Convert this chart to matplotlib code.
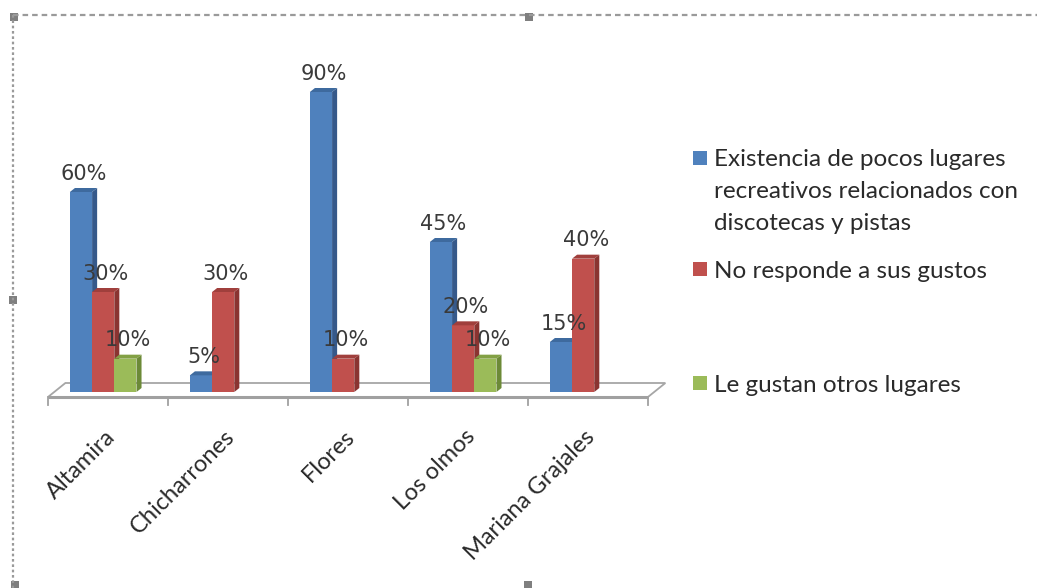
import matplotlib
matplotlib.use("Agg")
import matplotlib.pyplot as plt
from matplotlib.patches import Polygon, Rectangle
from matplotlib.lines import Line2D

categories = ["Altamira", "Chicharrones", "Flores", "Los olmos", "Mariana Grajales"]
pocos_lugares = [60, 5, 90, 45, 15]
no_responde = [30, 30, 10, 20, 40]
otros_lugares = [10, 0, 0, 10, 0]

series_names = [
    "Existencia de pocos lugares\nrecreativos relacionados con\ndiscotecas y pistas",
    "No responde a sus gustos",
    "Le gustan otros lugares",
]
series_values = [pocos_lugares, no_responde, otros_lugares]
# front, side, top shades for each series
shades = [
    ("#4F81BD", "#36598A", "#3E6A9E"),
    ("#C0504D", "#8A3431", "#A03F3C"),
    ("#9BBB59", "#6C8A37", "#82A044"),
]

W, H = 1037, 588
fig = plt.figure(figsize=(W / 100, H / 100), dpi=100)

# axes placed so one category spans 120 px and 1% spans ~3.33 px
ax = fig.add_axes([30 / W, (H - 420) / H, 650 / W, 380 / H])
ax.set_xlim(-0.65, 4.767)
ax.set_ylim(-8.4, 105.6)
ax.axis("off")

dx, dy = 0.042, 1.2       # depth of bar side/top
fdx, f_front, f_back = 0.145, -1.5, 2.7   # floor geometry
n = len(categories)

floor = Polygon([(-0.5, f_front), (n - 0.5, f_front), (n - 0.5 + fdx, f_back),
                 (-0.5 + fdx, f_back)], closed=True, facecolor="white",
                edgecolor="#A6A6A6", lw=1.3, zorder=1)
ax.add_patch(floor)
ax.plot([-0.5, n - 0.5], [f_front, f_front], color="#A0A0A0", lw=2.2, zorder=1.5,
        solid_capstyle="butt")
for i in range(n + 1):
    ax.plot([i - 0.5, i - 0.5], [f_front, -3.9], color="#A0A0A0", lw=1.3, zorder=1.5)


def bar3d(x, w, h, colors, z):
    front, side, top = colors
    ax.bar(x, h, w, color=front, linewidth=0, zorder=z)
    r, l = x + w / 2, x - w / 2
    ax.add_patch(Polygon([(r, 0), (r + dx, dy), (r + dx, h + dy), (r, h)],
                         closed=True, facecolor=side, lw=0, zorder=z))
    ax.add_patch(Polygon([(l, h), (l + dx, h + dy), (r + dx, h + dy), (r, h)],
                         closed=True, facecolor=top, lw=0, zorder=z))


w = 0.185
for k, (vals, colors) in enumerate(zip(series_values, shades)):
    for i, v in enumerate(vals):
        if v == 0:
            continue
        x = i + (k - 1) * w - 0.04
        bar3d(x, w, v, colors, 2 + k)
        ax.annotate(f"{v}%", (x + dx / 2, v + dy), xytext=(0, 3),
                    textcoords="offset points", ha="center", va="bottom",
                    fontsize=15, color="#3A3A3A", family="DejaVu Sans", zorder=10)

for i, name in enumerate(categories):
    ax.text(i - 0.03, -10.2, name, rotation=45, rotation_mode="anchor",
            ha="right", va="top", fontsize=17, family="Lato", color="#2A2A2A",
            clip_on=False)

# legend, one text per line so spacing follows the 32 px rhythm
leg_y = [158, 269, 383]
for (front, _, _), name, y in zip(shades, series_names, leg_y):
    fig.patches.append(Rectangle((693 / W, (H - y - 7) / H), 14 / W, 14 / H,
                                 transform=fig.transFigure, facecolor=front, lw=0))
    for j, line in enumerate(name.split("\n")):
        fig.text(714 / W, (H - y - 32 * j) / H, line, ha="left", va="center_baseline",
                 fontsize=17.5, family="Lato", color="#2A2A2A")

# dashed frame with handles
frame = dict(color="#9A9A9A", lw=1.6, transform=fig.transFigure)
fig.lines.append(Line2D([13 / W, 1.0], [(H - 15) / H] * 2, dashes=(2.5, 1.8), **frame))
fig.lines.append(Line2D([13 / W] * 2, [(H - 15) / H, 0], dashes=(1.2, 1.2), **frame))
for hx, hy in [(14, 17), (529, 17), (13, 300), (15, 585), (528, 585)]:
    fig.patches.append(Rectangle(((hx - 4) / W, (H - hy - 4) / H), 8 / W, 8 / H,
                                 transform=fig.transFigure, facecolor="#7F7F7F", lw=0))

fig.savefig("out.png", dpi=100)
